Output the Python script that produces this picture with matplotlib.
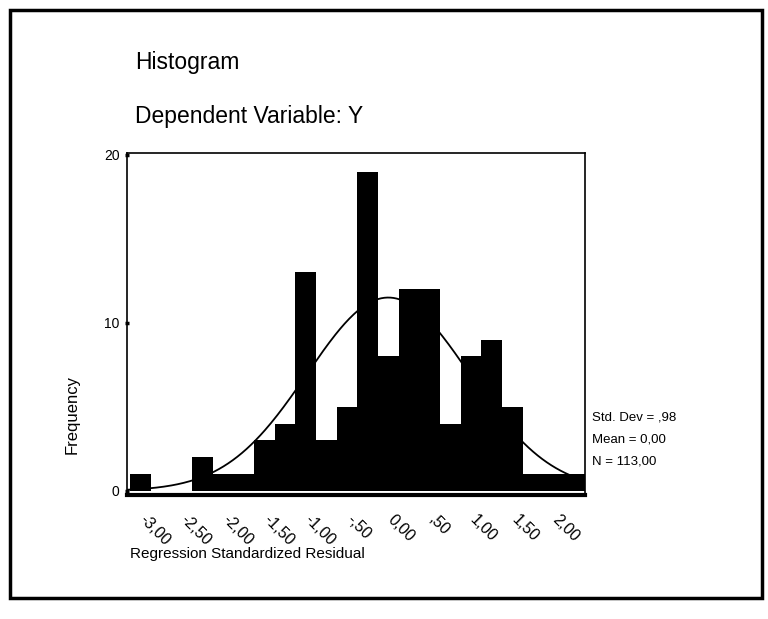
import numpy as np
import matplotlib.pyplot as plt
import matplotlib.transforms as mtransforms
from matplotlib.patches import Rectangle

plt.rcParams["font.family"] = ["Liberation Sans", "DejaVu Sans"]

# bin centres (width 0.25) and counts
bin_centers = np.arange(22) * 0.25 - 3.0
counts = [1, 0, 0, 2, 1, 1, 3, 4, 13, 3, 5, 19, 8, 12, 12, 4, 8, 9, 5, 1, 1, 1]
tick_values = [-3.0, -2.5, -2.0, -1.5, -1.0, -0.5, 0.0, 0.5, 1.0, 1.5, 2.0]
tick_labels = ["-3,00", "-2,50", "-2,00", "-1,50", "-1,00", "-,50",
               "0,00", ",50", "1,00", "1,50", "2,00"]
std_dev = 0.98
mean = 0.0
n_total = 113
bin_width = 0.25

fig = plt.figure(figsize=(7.68, 6.19), dpi=100)
ax = fig.add_axes([0.1654, 0.2003, 0.5964, 0.5525])

ax.bar(bin_centers, counts, width=bin_width, color="black", edgecolor="none")

# fitted normal curve from the stated mean / std dev / N
xs = np.linspace(-3.16, 2.38, 300)
ys = n_total * bin_width / (std_dev * np.sqrt(2 * np.pi)) * np.exp(-0.5 * ((xs - mean) / std_dev) ** 2)
ax.plot(xs, ys, color="black", lw=1.3)

ax.set_xlim(-3.16, 2.38)
ax.set_ylim(-0.25, 20.1)
ax.set_yticks([0, 10, 20])
ax.set_yticklabels(["0", "10", "20"], fontsize=10)
ax.tick_params(axis="y", length=3, width=2.5, direction="inout", pad=4)
ax.set_xticks(tick_values)
ax.set_xticklabels(tick_labels, rotation=-45, ha="left", va="top",
                   rotation_mode="anchor", fontsize=11.5)
ax.tick_params(axis="x", length=0, pad=12)
shift = mtransforms.ScaledTranslation(7 / 100, 0, fig.dpi_scale_trans)
for lbl in ax.get_xticklabels():
    lbl.set_transform(lbl.get_transform() + shift)
for side in ["left", "right", "top"]:
    ax.spines[side].set_linewidth(1.2)
ax.spines["bottom"].set_linewidth(3)

fig.text(72 / 768, 1 - 415 / 619, "Frequency", fontsize=12, rotation=90,
         ha="center", va="center")

fig.text(135 / 768, 1 - 63 / 619, "Histogram", fontsize=16.5, va="center")
fig.text(135 / 768, 1 - 117 / 619, "Dependent Variable: Y", fontsize=16.5, va="center")
fig.text(130 / 768, 1 - 554 / 619, "Regression Standardized Residual", fontsize=11, va="center")

stats = ["Std. Dev = ,98", "Mean = 0,00", "N = 113,00"]
for i, s in enumerate(stats):
    fig.text(592 / 768, 1 - (417 + 22.5 * i) / 619, s, fontsize=9.5, va="center")

# outer frame of the scanned output
fig.patches.append(Rectangle((10 / 768, 21 / 619), 752 / 768, 588 / 619,
                             transform=fig.transFigure, fill=False,
                             edgecolor="black", lw=2.5))

fig.savefig("out.png", dpi=100)
